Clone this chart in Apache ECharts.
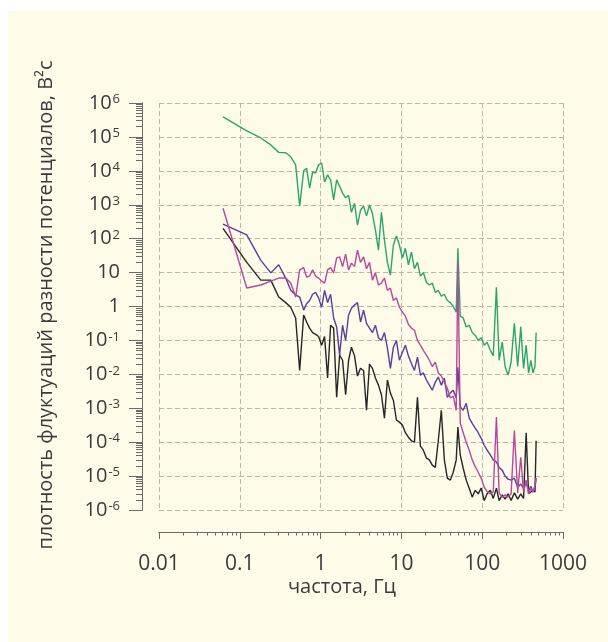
<!DOCTYPE html>
<html>
<head>
<meta charset="utf-8">
<script src="https://cdn.jsdelivr.net/npm/echarts@6/dist/echarts.min.js"></script>
<style>
    html, body { margin: 0; padding: 0; background: #fff; }
    #panel { position: absolute; left: 8px; top: 11px; width: 600px; height: 631px; background: #fefbe9; }
    #chart { position: absolute; left: 0; top: 0; width: 608px; height: 642px; }
</style>
</head>
<body>
<div id="panel"></div>
<div id="chart"></div>
<script>
    // частота, Гц
    const freq = [0.062, 0.122, 0.182, 0.242, 0.303, 0.37, 0.427, 0.491, 0.551, 0.617,
        0.671, 0.731, 0.796, 0.867, 0.944, 1.03, 1.12, 1.22, 1.33, 1.45,
        1.58, 1.72, 1.87, 2.04, 2.22, 2.41, 2.63, 2.86, 3.12, 3.40,
        3.70, 4.03, 4.38, 4.77, 5.20, 5.66, 6.17, 6.71, 7.31, 7.96,
        8.67, 9.44, 10.3, 11.2, 12.2, 13.3, 14.5, 15.8, 17.2, 18.7,
        20.4, 22.2, 24.1, 26.3, 28.6, 31.2, 34.0, 37.0, 40.3, 43.8,
        47.7, 50, 53.5, 58.2, 63.4, 69.1, 75.3, 82.0, 89.3, 97.2,
        106, 115, 126, 137, 150, 162, 177, 192, 209, 228,
        250, 275, 300, 325, 350, 375, 400, 425, 450, 465]

    // плотность флуктуаций, В²с
    const green = [3.9e5, 1.5e5, 9.3e4, 5.8e4, 3.5e4, 3.4e4, 2.6e4, 1.5e4, 9.1e2, 1.0e4,
        1.2e4, 3.1e3, 9.1e3, 8.7e3, 1.5e4, 1.7e4, 4.7e3, 7.6e3, 5.4e3, 1.4e3,
        5.4e3, 3.5e3, 2.2e3, 1.6e3, 1.9e3, 6.0e2, 1.1e3, 2.5e2, 6.9e2, 9.1e2,
        4.7e2, 9.8e2, 5.4e2, 1.8e2, 46, 6.0e2, 91, 20, 8.5, 65,
        120, 65, 27, 52, 17, 40, 13, 20, 7.9, 10,
        5.2, 4.3, 4.9, 2.6, 3.0, 2.0, 2.3, 1.5, 1.3, 1.0,
        0.68, 52, 0.52, 0.46, 0.25, 0.28, 0.17, 0.14, 0.10, 0.12,
        0.072, 0.089, 0.051, 0.035, 3.7, 0.026, 0.089, 0.017, 0.0095, 0.023,
        0.32, 0.017, 0.25, 0.015, 0.072, 0.011, 0.026, 0.011, 0.017, 0.17]

    const black = [2.0e2, 20, 6.0, 6.0, 1.9, 1.3, 0.95, 0.46, 0.013, 0.56,
        0.35, 0.23, 0.17, 0.15, 0.13, 0.072, 0.13, 0.0078, 0.28, 0.23,
        0.0021, 0.037, 0.026, 0.0025, 0.026, 0.063, 0.035, 0.0089, 0.015, 0.013,
        8.7e-4, 0.020, 0.015, 0.0078, 0.0048, 0.0025, 5.1e-4, 0.0068, 0.0028, 0.0017,
        4.5e-4, 3.9e-4, 3.2e-4, 1.9e-4, 1.4e-4, 1.1e-4, 1.0e-4, 2.1e-3, 7.6e-5, 5.8e-5,
        3.4e-5, 3.0e-5, 2.1e-5, 1.8e-5, 1.1e-4, 8.7e-4, 3.0e-5, 8.7e-6, 7.6e-6, 1.3e-5,
        3.0e-5, 2.8e-4, 4.2e-5, 1.7e-5, 7.6e-6, 4.4e-6, 2.4e-6, 3.8e-6, 3.0e-6, 4.4e-6,
        1.9e-6, 3.0e-6, 3.8e-6, 2.2e-6, 4.4e-6, 1.9e-6, 2.8e-6, 2.1e-6, 3.0e-6, 1.9e-6,
        3.2e-6, 2.1e-6, 3.0e-6, 2.2e-6, 1.9e-4, 3.0e-6, 3.4e-6, 3.8e-6, 3.4e-6, 1.1e-4]

    const violet = [2.7e2, 1.3e2, 23, 9.8, 17, 6.9, 3.0, 2.2, 1.9, 0.78,
        1.2, 1.5, 2.3, 2.6, 1.8, 0.95, 3.0, 1.3, 2.3, 0.46,
        0.25, 0.037, 0.28, 0.10, 0.56, 0.89, 1.1, 1.3, 0.35, 0.78,
        0.32, 0.23, 0.17, 0.28, 0.12, 0.10, 0.17, 0.059, 0.015, 0.063,
        0.10, 0.026, 0.045, 0.072, 0.035, 0.021, 0.013, 0.032, 0.0095, 0.011,
        0.0068, 0.0048, 0.0034, 0.0059, 0.0083, 0.0048, 0.0078, 0.0021, 0.0028, 0.0034,
        0.0020, 0.016, 0.0011, 8.7e-4, 1.4e-3, 5.1e-4, 3.6e-4, 2.6e-4, 1.9e-4, 1.3e-4,
        8.1e-5, 5.8e-5, 4.2e-5, 3.0e-5, 2.6e-5, 1.8e-5, 1.5e-5, 1.0e-5, 8.1e-6, 7.6e-6,
        8.7e-6, 4.7e-6, 5.8e-6, 4.4e-6, 6.2e-6, 3.8e-6, 5.0e-6, 3.4e-6, 4.4e-6, 8.7e-6]

    const magenta = [7.9e2, 3.5, 4.3, 5.6, 6.9, 6.9, 4.9, 1.9, 12, 14,
        7.4, 7.9, 12, 7.9, 6.9, 5.6, 4.9, 12, 14, 9.8,
        27, 29, 15, 35, 12, 19, 15, 46, 20, 29,
        13, 20, 6.0, 9.8, 4.3, 4.9, 6.9, 3.0, 3.5, 1.5,
        1.8, 0.95, 0.68, 0.52, 0.30, 0.23, 0.20, 0.10, 0.072, 0.051,
        0.037, 0.026, 0.017, 0.023, 0.011, 0.0089, 0.0059, 0.0039, 0.0020, 0.0023,
        8.7e-4, 20, 3.6e-4, 1.9e-4, 1.0e-4, 5.8e-5, 3.0e-5, 1.9e-5, 1.3e-5, 8.7e-6,
        4.7e-6, 3.5e-6, 3.0e-6, 3.4e-6, 5.5e-4, 3.2e-6, 2.4e-6, 2.8e-6, 2.4e-6, 3.0e-6,
        2.2e-4, 3.2e-6, 3.6e-5, 3.4e-6, 7.6e-6, 3.0e-6, 4.4e-6, 3.4e-6, 5.4e-6, 8.7e-6]

    const xTickLabels = ['0.01', '0.1', '1', '10', '100', '1000']
    const xRange = [-2, 3]   // десятичные порядки
    const yRange = [-6, 6]

    const font = '"Open Sans", "Noto Sans", sans-serif'
    const textColor = '#3a3a3a'
    const axisColor = '#6a6a6a'
    const gridDash = { color: '#bdb7a8', width: 1, type: [5, 3] }

    // мелкие деления 2..9 внутри каждой декады
    function minorTicks(range) {
        const out = []
        for (let e = range[0]; e < range[1]; e++) {
            for (let k = 2; k <= 9; k++) out.push(e + Math.log10(k))
        }
        return out
    }

    function toLog(values) {
        return freq.map((f, i) => [Math.log10(f), Math.log10(values[i])])
    }

    function yLabel(v) {
        const e = Math.round(v)
        if (e === 0) return '1'
        if (e === 1) return '10'
        return '10{s|' + (e < 0 ? '-' + (-e) : e) + '}'
    }

    // ось только для мелких делений
    function minorAxis(range, position, offset, len) {
        return {
            type: 'value',
            min: range[0],
            max: range[1],
            position: position,
            offset: offset,
            axisLine: { show: true, onZero: false, lineStyle: { color: axisColor, width: 1 } },
            axisTick: { show: true, length: len, customValues: minorTicks(range), lineStyle: { color: axisColor } },
            axisLabel: { show: false },
            splitLine: { show: false }
        }
    }

    const chart = echarts.init(document.getElementById('chart'), null, { renderer: 'canvas' })

    chart.setOption({
        animation: false,
        backgroundColor: 'transparent',
        textStyle: { fontFamily: font },
        grid: {
            left: 159,
            right: 45,
            top: 103,
            bottom: 132,
            outerBoundsMode: 'none'
        },
        xAxis: [
            {
                type: 'value',
                min: xRange[0],
                max: xRange[1],
                interval: 1,
                position: 'bottom',
                offset: 22,
                axisLine: { show: true, onZero: false, lineStyle: { color: axisColor, width: 1 } },
                axisTick: { show: true, length: 7, lineStyle: { color: axisColor } },
                axisLabel: {
                    margin: 22,
                    fontSize: 21,
                    color: textColor,
                    fontFamily: font,
                    showMinLabel: true,
                    showMaxLabel: true,
                    formatter: v => xTickLabels[Math.round(v) - xRange[0]]
                },
                splitLine: { show: true, lineStyle: gridDash }
            },
            minorAxis(xRange, 'bottom', 22, 3.5)
        ],
        yAxis: [
            {
                type: 'value',
                min: yRange[0],
                max: yRange[1],
                interval: 1,
                position: 'left',
                offset: 17,
                axisLine: { show: true, onZero: false, lineStyle: { color: axisColor, width: 1 } },
                axisTick: { show: true, length: 13, lineStyle: { color: axisColor } },
                axisLabel: {
                    margin: 22,
                    fontSize: 20,
                    color: textColor,
                    fontFamily: font,
                    showMinLabel: true,
                    showMaxLabel: true,
                    formatter: yLabel,
                    rich: {
                        s: { fontSize: 13, color: textColor, fontFamily: font, verticalAlign: 'top', padding: [0, 0, 0, 1] }
                    }
                },
                splitLine: { show: true, lineStyle: gridDash }
            },
            minorAxis(yRange, 'left', 17, 6)
        ],
        graphic: [
            {
                type: 'text',
                x: 342,
                y: 587,
                style: {
                    text: 'частота, Гц',
                    fontSize: 20,
                    fontFamily: font,
                    fill: textColor,
                    align: 'center',
                    verticalAlign: 'middle'
                }
            },
            {
                type: 'text',
                x: 46,
                y: 305,
                rotation: Math.PI / 2,
                style: {
                    text: 'плотность флуктуаций разности потенциалов, В²с',
                    fontSize: 20,
                    fontFamily: font,
                    fill: textColor,
                    align: 'center',
                    verticalAlign: 'middle'
                }
            }
        ],
        series: [
            { name: 'green', color: '#2aa56e', data: toLog(green) },
            { name: 'black', color: '#262626', data: toLog(black) },
            { name: 'violet', color: '#5a3d9f', data: toLog(violet) },
            { name: 'magenta', color: '#b8489c', data: toLog(magenta) }
        ].map(s => ({
            name: s.name,
            type: 'line',
            xAxisIndex: 0,
            yAxisIndex: 0,
            showSymbol: false,
            symbol: 'none',
            lineStyle: { color: s.color, width: 1.4 },
            itemStyle: { color: s.color },
            data: s.data
        })).concat([{
            // пустой ряд, чтобы оси мелких делений были привязаны к декартовой системе
            type: 'line',
            xAxisIndex: 1,
            yAxisIndex: 1,
            silent: true,
            data: []
        }])
    })
</script>
</body>
</html>
